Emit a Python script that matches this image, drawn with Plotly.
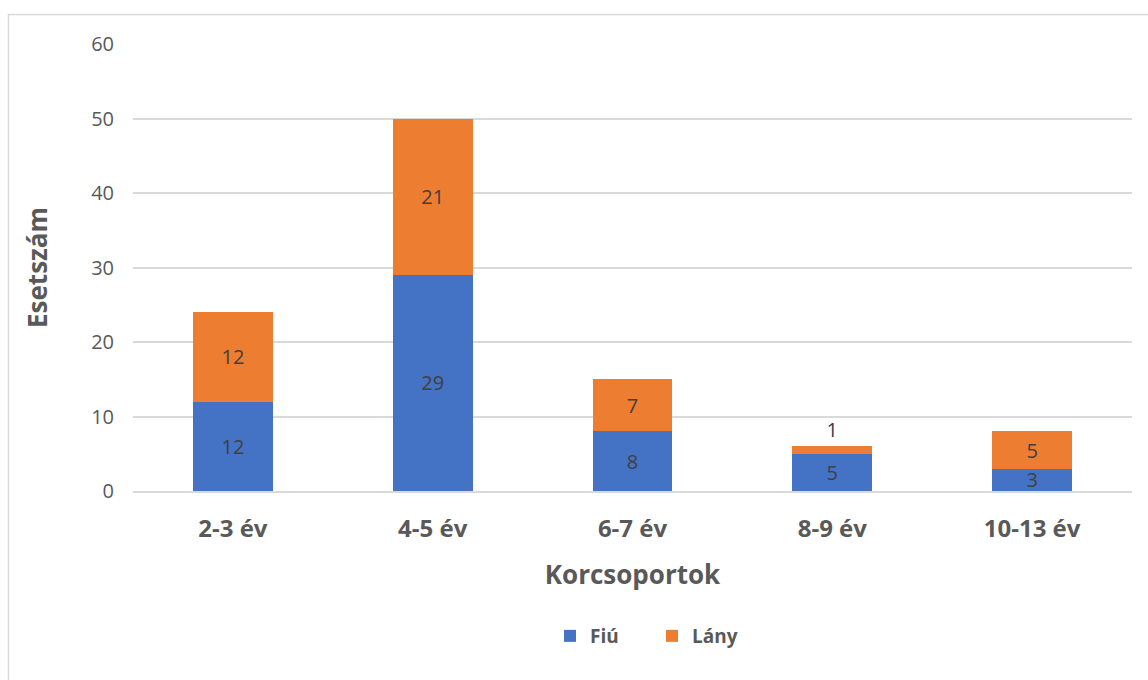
import plotly.graph_objects as go

# Age groups and case counts by sex
categories = ["2-3 év", "4-5 év", "6-7 év", "8-9 év", "10-13 év"]
fiu = [12, 29, 8, 5, 3]
lany = [12, 21, 7, 1, 5]

BLUE = "#4472C4"
ORANGE = "#ED7D31"
GRID = "#D9D9D9"
TXT = "#595959"
LBL = "#404040"
FONT = "'Open Sans', sans-serif"

# small segments get their label above the bar
lany_pos = ["outside" if v < 2 else "inside" for v in lany]

fig = go.Figure()
fig.add_trace(go.Bar(
    x=categories, y=fiu, name="Fiú", marker=dict(color=BLUE, line=dict(width=0)),
    text=[str(v) for v in fiu], textposition="inside", insidetextanchor="middle",
    textangle=0, textfont=dict(size=20, color=LBL, family=FONT),
))
fig.add_trace(go.Bar(
    x=categories, y=lany, name="Lány", marker=dict(color=ORANGE, line=dict(width=0)),
    text=[str(v) for v in lany], textposition=lany_pos, insidetextanchor="middle",
    textangle=0, textfont=dict(size=20, color=LBL, family=FONT),
    cliponaxis=False,
))

L, R, T, B = 133, 16, 44, 189
W, H = 1148, 680
pw = W - L - R
ph = H - T - B

fig.update_layout(
    width=W, height=H, barmode="stack", bargap=0.6,
    margin=dict(l=L, r=R, t=T, b=B),
    paper_bgcolor="white", plot_bgcolor="white",
    font=dict(family=FONT, color=TXT),
    uniformtext=dict(minsize=20, mode="show"),
    xaxis=dict(
        showgrid=False, showline=True, linecolor=GRID, linewidth=1.5,
        ticks="", tickfont=dict(size=24, color=TXT, family=FONT, weight="bold"),
        ticklabelstandoff=15,
        title=dict(text="<b>Korcsoportok</b>", font=dict(size=26, color=TXT, family=FONT), standoff=23),
    ),
    yaxis=dict(
        range=[0, 60], dtick=10, showgrid=True, gridcolor=GRID, gridwidth=1.5,
        zeroline=False, ticks="", tickfont=dict(size=20, color=TXT, family=FONT),
        ticklabelstandoff=18,
        title=dict(text="<b>Esetszám</b>", font=dict(size=26, color=TXT, family=FONT), standoff=36),
    ),
    legend=dict(
        orientation="h", x=(550 - L) / pw, xanchor="left",
        y=(H - B - 636) / ph, yanchor="middle",
        font=dict(size=19, color=TXT, family=FONT, weight="bold"),
        entrywidth=57, itemwidth=30, traceorder="normal",
    ),
    shapes=[dict(
        type="rect", xref="paper", yref="paper",
        x0=(8.5 - L) / pw, x1=(W + 20 - L) / pw,
        y0=(H - B - (H + 20)) / ph, y1=(H - B - 14.5) / ph,
        line=dict(color="#D9D9D9", width=1.5), layer="below",
    )],
)

fig.write_html("out.html")
